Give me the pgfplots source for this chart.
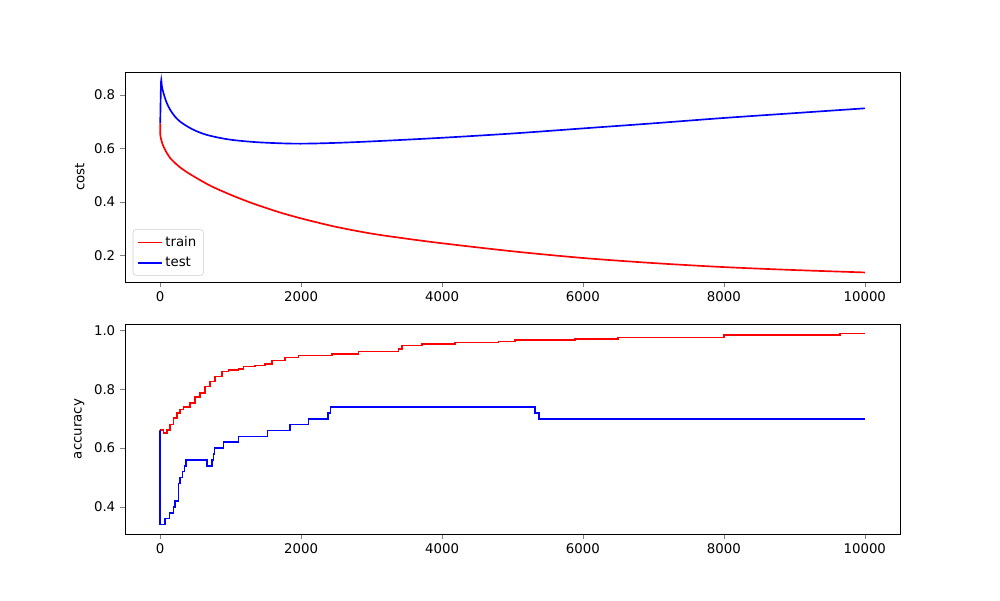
\documentclass[border=0pt]{standalone}
\usepackage{pgfplots}
\pgfplotsset{compat=1.18}
\usepackage{fontspec}
\setmainfont{DejaVu Sans}
\begin{document}
\begin{tikzpicture}
\path (0,0) rectangle (720pt,432pt);
\pgfplotsset{every axis/.style={scale only axis, width=558pt, height=151.2pt, xmin=-500, xmax=10500,
 tick align=outside, tick pos=left, font=\fontsize{9.6}{11.5}\selectfont,
 /pgf/number format/assume math mode=true, scaled x ticks=false,
 xtick={0,2000,4000,6000,8000,10000}, xticklabel style={/pgf/number format/1000 sep={}},
 yticklabel style={/pgf/number format/fixed,/pgf/number format/precision=1,/pgf/number format/fixed zerofill},
 major tick length=3.5pt}}
\begin{axis}[at={(90pt,228.96pt)}, anchor=south west, ymin=0.1013, ymax=0.8857,
 ytick={0.2,0.4,0.6,0.8}, ylabel={cost},
 legend style={draw=black!20, rounded corners=2pt, legend cell align=left, at={(0.01,0.03)}, anchor=south west, row sep=2pt, inner sep=3pt}]
\addplot[red, line width=1.2pt, smooth, tension=0.5] coordinates {(0,0.694)(1,0.651)(20,0.627)(47,0.607)(90,0.585)(142,0.564)(210,0.546)(284,0.529)(400,0.508)(520,0.489)(640,0.471)(757,0.455)(1000,0.427)(1250,0.401)(1466,0.381)(1750,0.357)(2057,0.335)(2500,0.307)(3000,0.282)(3500,0.263)(4000,0.246)(5000,0.216)(6000,0.191)(7000,0.172)(8000,0.157)(9000,0.146)(10000,0.137)};
\addlegendentry{train}
\addplot[blue, line width=1.2pt, smooth, tension=0.5] coordinates {(0,0.694)(12,0.85)(25,0.83)(47,0.806)(90,0.772)(142,0.744)(210,0.719)(284,0.70)(400,0.68)(520,0.664)(700,0.648)(993,0.633)(1400,0.623)(1939,0.618)(2500,0.621)(3121,0.628)(4000,0.64)(5000,0.656)(6000,0.675)(7000,0.694)(8000,0.714)(9000,0.732)(10000,0.75)};
\addlegendentry{test}
\end{axis}
\begin{axis}[at={(90pt,47.52pt)}, anchor=south west, ymin=0.3075, ymax=1.0225,
 ytick={0.4,0.6,0.8,1.0}, ylabel={accuracy}]
\addplot[red, line width=1.2pt, const plot] coordinates {(0,0.6625)(47,0.651)(95,0.6625)(142,0.68)(189,0.702)(236,0.719)(284,0.731)(331,0.74)(378,0.74)(426,0.753)(496,0.774)(567,0.788)(638,0.81)(709,0.827)(780,0.844)(875,0.861)(969,0.867)(1111,0.869)(1182,0.878)(1348,0.881)(1489,0.886)(1584,0.898)(1773,0.909)(1962,0.915)(2435,0.92)(2813,0.929)(3381,0.938)(3428,0.949)(3712,0.955)(4184,0.96)(4799,0.963)(5035,0.969)(5887,0.971)(6500,0.976)(8000,0.985)(9650,0.99)(10000,0.99)};
\addplot[blue, line width=1.2pt, const plot] coordinates {(0,0.66)(1,0.34)(71,0.36)(132,0.38)(189,0.40)(213,0.42)(260,0.48)(284,0.50)(317,0.52)(345,0.54)(369,0.56)(662,0.54)(733,0.56)(757,0.58)(771,0.60)(898,0.62)(1111,0.64)(1522,0.66)(1844,0.68)(2104,0.70)(2378,0.72)(2416,0.74)(5319,0.72)(5376,0.70)(10000,0.70)};
\end{axis}
\end{tikzpicture}
\end{document}
